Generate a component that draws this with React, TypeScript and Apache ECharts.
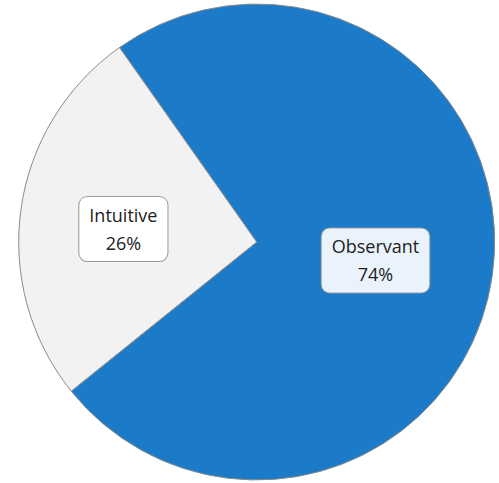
import React, { useEffect, useRef } from "react";
import * as echarts from "echarts";

const categories = ["Observant", "Intuitive"];
const values = [74, 26];
const colors = ["#1b7bc9", "#f2f2f2"];
const labelBg = ["#eaf3fb", "#ffffff"];

export default function App() {
  const ref = useRef<HTMLDivElement>(null);
  useEffect(() => {
    if (!ref.current) return;
    const chart = echarts.init(ref.current, null, { renderer: "svg" });
    chart.setOption({
      animation: false,
      series: [
        {
          type: "pie",
          center: [256.7, 242],
          radius: 238,
          startAngle: 125.2,
          clockwise: true,
          avoidLabelOverlap: false,
          itemStyle: { borderColor: "#8a8a8a", borderWidth: 1 },
          label: {
            show: true,
            position: "inside",
            formatter: "{b}\n{d}%",
            fontFamily: "Open Sans",
            fontSize: 18,
            lineHeight: 28,
            color: "#222",
            borderColor: "#9a9a9a",
            borderWidth: 1,
            borderRadius: 8,
            padding: [4, 10, 4, 10],
          },
          labelLine: { show: false },
          data: categories.map((name, i) => ({
            name,
            value: values[i],
            itemStyle: { color: colors[i] },
            label: {
              backgroundColor: labelBg[i],
              offset: i === 1 ? [-12.5, 4] : [-2, 1.5],
            },
          })),
        },
      ],
    });
    return () => chart.dispose();
  }, []);
  return (
    <div
      ref={ref}
      style={{ position: "fixed", left: 0, top: 0, width: 499, height: 483, background: "#fff" }}
    />
  );
}
